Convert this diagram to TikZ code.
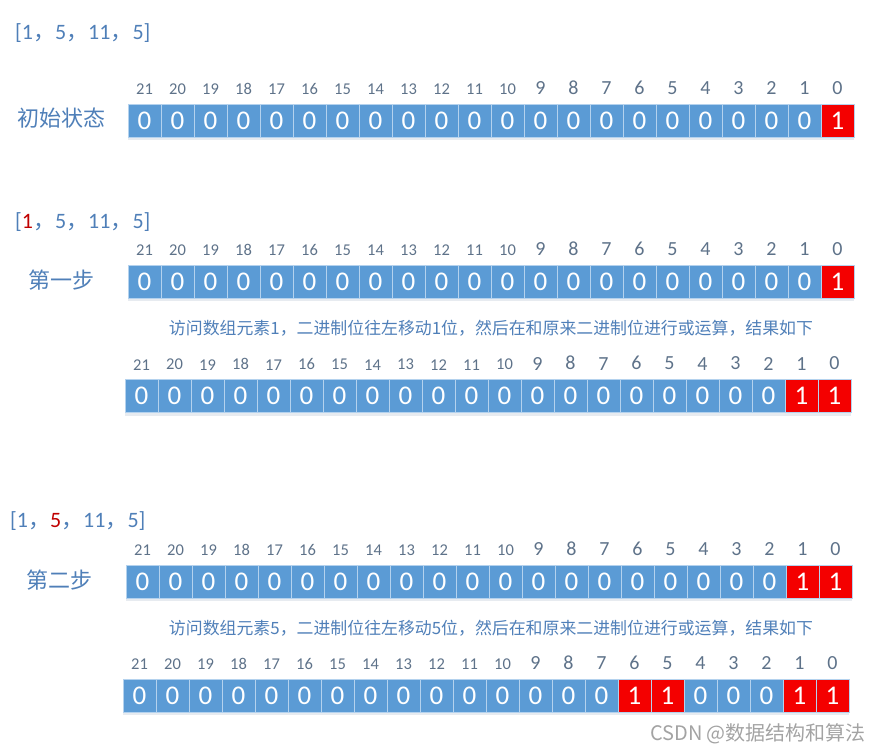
\documentclass[tikz,border=0pt]{standalone}
\usepackage{fontspec}
\setmainfont{Carlito}
\newfontfamily\cjk{Noto Sans CJK SC}
\usetikzlibrary{positioning,shadows}
\definecolor{bitblue}{HTML}{5B9BD5}
\definecolor{bitred}{HTML}{F40000}
\definecolor{bitline}{HTML}{B4D2EE}
\definecolor{hdrgray}{HTML}{5E7289}
\definecolor{txtblue}{HTML}{4F7FB8}
\definecolor{markred}{HTML}{C00000}
\definecolor{wmgray}{HTML}{A3A3A3}
\tikzset{
	bit/.style={draw=bitline, line width=0.6pt, fill=bitblue, text=white, minimum width=33pt, minimum height=33pt, inner sep=0pt, font=\fontsize{27}{27}\selectfont, drop shadow={shadow xshift=0pt, shadow yshift=-3pt, opacity=0.12, fill=bitblue!60!black}},
	bit0/.style={bit},
	bit1/.style={bit, fill=bitred},
	hdrsmall/.style={text=hdrgray, inner sep=0pt, font=\fontsize{16.5}{16.5}\selectfont},
	hdrbig/.style={text=hdrgray, inner sep=0pt, font=\fontsize{20}{20}\selectfont},
	listtxt/.style={text=txtblue, anchor=west, inner sep=0pt, font=\fontsize{22}{22}\selectfont},
	steptxt/.style={text=txtblue, anchor=west, inner sep=0pt, font=\cjk\fontsize{22}{22}\selectfont},
	note/.style={text=txtblue, inner sep=0pt, font=\cjk\fontsize{16.9}{16.9}\selectfont},
	watermark/.style={text=wmgray, inner sep=0pt, font=\cjk\fontsize{20}{20}\selectfont}
}
% one row of 22 bits: name, left x, centre y, positions of the ones
\newcommand\bitrow[4]{%
	\foreach \i in {0,...,21}{%
		\gdef\bitval{0}%
		\foreach \j in {#4}{\ifnum\i=\j\relax\gdef\bitval{1}\fi}%
		\ifnum\i>9 \def\hdrsize{hdrsmall}\else\def\hdrsize{hdrbig}\fi
		\node[bit\bitval, label={[\hdrsize, label distance=9pt]above:\i}] (#1b\i) at ({#2+16.5+33*(21-\i)}, #3) {\bitval};
	}}
\newcommand\cm{{\cjk ，}}

\begin{document}
\begin{tikzpicture}[x=1pt, y=-1pt]
	\useasboundingbox (0,0) rectangle (881,754);

	% initial state
	\node[listtxt] (arr0) at (15,33) {[1\cm 5\cm 11\cm 5]};
	\node[steptxt] (s0) at (17,118) {初始状态};
	\bitrow{r1}{128}{121}{0}

	% step one
	\node[listtxt] (arr1) at (15,222) {[\textcolor{markred}{1}\cm 5\cm 11\cm 5]};
	\node[steptxt] (s1) at (28,280) {第一步};
	\bitrow{r2}{128}{281.5}{0}
	\node[note] (n1) at (491,328) {访问数组元素1，二进制位往左移动1位，然后在和原来二进制位进行或运算，结果如下};
	\bitrow{r3}{125}{396}{0,1}

	% step two
	\node[listtxt] (arr2) at (10,521) {[1\cm\textcolor{markred}{5}\cm 11\cm 5]};
	\node[steptxt] (s2) at (26,580) {第二步};
	\bitrow{r4}{126}{581.5}{0,1}
	\node[note] (n2) at (491,628) {访问数组元素5，二进制位往左移动5位，然后在和原来二进制位进行或运算，结果如下};
	\bitrow{r5}{123}{695.5}{0,1,5,6}

	\node[watermark] (wm) at (758,734) {CSDN @数据结构和算法};
\end{tikzpicture}
\end{document}
